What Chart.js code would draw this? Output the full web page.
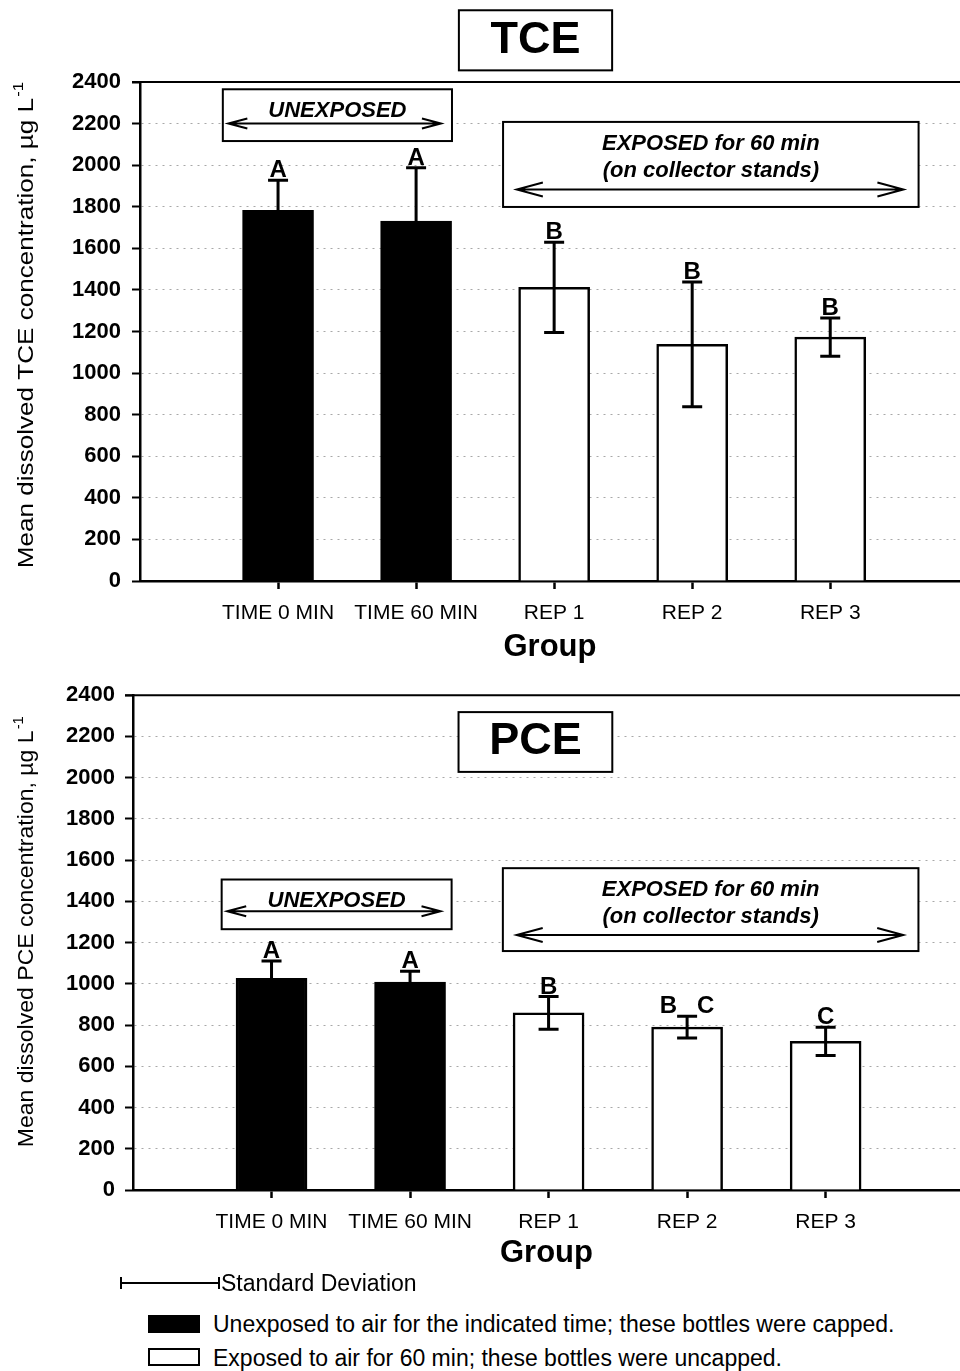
<!DOCTYPE html>
<html>
<head>
<meta charset="utf-8">
<title>TCE / PCE</title>
<script src="https://cdn.jsdelivr.net/npm/chart.js@4.4.1/dist/chart.umd.min.js"></script>
<style>
  body { margin: 0; background: #fff; }
  #page { position: relative; width: 960px; height: 1371px; overflow: hidden; font-family: "Liberation Sans", Arial, sans-serif; color: #000; }
  #tce { position: absolute; left: 0; top: 0; }
  #pce { position: absolute; left: 0; top: 672px; }
  .txt { position: absolute; font-size: 23px; line-height: 26px; white-space: nowrap; }
  .sd { position: absolute; left: 120px; top: 1277px; width: 96px; height: 12px;
        border-left: 2px solid #000; border-right: 2px solid #000;
        background: linear-gradient(#000, #000) center / 100% 2px no-repeat; }
  .swatch { position: absolute; left: 148px; width: 52px; height: 18px; box-sizing: border-box; border: 2px solid #000; }
</style>
</head>
<body>
<div id="page">
  <canvas id="tce" width="960" height="672"></canvas>
  <canvas id="pce" width="960" height="600"></canvas>

  <div class="sd"></div>
  <div class="txt" style="left:221px; top:1270px;">Standard Deviation</div>
  <div class="swatch" style="top:1315px; background:#000;"></div>
  <div class="txt" style="left:213px; top:1311px;">Unexposed to air for the indicated time; these bottles were capped.</div>
  <div class="swatch" style="top:1348px; background:#fff;"></div>
  <div class="txt" style="left:213px; top:1345px;">Exposed to air for 60 min; these bottles were uncapped.</div>
</div>

<script>
//data
const groups = ['TIME 0 MIN', 'TIME 60 MIN', 'REP 1', 'REP 2', 'REP 3'];
const groupPos = [1, 2, 3, 4, 5];
const yTicks = [0, 200, 400, 600, 800, 1000, 1200, 1400, 1600, 1800, 2000, 2200, 2400];
const barColors = ['#000', '#000', '#fff', '#fff', '#fff'];

const tceMean = [1783, 1731, 1412, 1138, 1173];
const tceSd = [145, 256, 217, 300, 92];
const tceLetters = ['A', 'A', 'B', 'B', 'B'];

const pceMean = [1027, 1008, 859, 790, 721];
const pceSd = [84, 53, 79, 53, 69];
const pceLetters = ['A', 'A', 'B', 'B   C', 'C'];

const FONT = '"Liberation Sans", Arial, sans-serif';

//error bars, letters, boxes, y title
const notes = {
  id: 'notes',
  afterDraw(chart, args, o) {
    const { ctx, chartArea: a, scales: { x, y } } = chart;
    const ds = chart.data.datasets[0];
    const meta = chart.getDatasetMeta(0);
    ctx.save();
    ctx.strokeStyle = '#000';
    ctx.fillStyle = '#000';

    // top frame line
    ctx.lineWidth = 2;
    ctx.beginPath();
    ctx.moveTo(a.left - 8, a.top);
    ctx.lineTo(a.right, a.top);
    ctx.stroke();

    meta.data.forEach((bar, i) => {
      const m = ds.data[i].y, s = o.sd[i];
      const hi = y.getPixelForValue(m + s), lo = y.getPixelForValue(m - s);
      ctx.lineWidth = 3;
      ctx.beginPath();
      ctx.moveTo(bar.x, lo); ctx.lineTo(bar.x, hi);
      ctx.moveTo(bar.x - 10, lo); ctx.lineTo(bar.x + 10, lo);
      ctx.moveTo(bar.x - 10, hi); ctx.lineTo(bar.x + 10, hi);
      ctx.stroke();
      ctx.font = 'bold 24px ' + FONT;
      ctx.textAlign = 'center';
      ctx.textBaseline = 'alphabetic';
      ctx.fillText(o.letters[i], bar.x, hi - 3);
    });

    o.boxes.forEach(b => {
      const x0 = x.getPixelForValue(b.x0), x1 = x.getPixelForValue(b.x1);
      const y0 = y.getPixelForValue(b.y1), y1 = y.getPixelForValue(b.y0);
      ctx.fillStyle = '#fff';
      ctx.fillRect(x0, y0, x1 - x0, y1 - y0);
      ctx.lineWidth = 2;
      ctx.strokeRect(x0, y0, x1 - x0, y1 - y0);
      ctx.fillStyle = '#000';
      ctx.font = b.font;
      ctx.textAlign = 'center';
      ctx.textBaseline = 'middle';
      b.lines.forEach(l => ctx.fillText(l.text, (x0 + x1) / 2, y.getPixelForValue(l.y)));
      if (b.arrow) {
        const ax0 = x.getPixelForValue(b.arrow.x0), ax1 = x.getPixelForValue(b.arrow.x1);
        const ay = y.getPixelForValue(b.arrow.y), hl = b.arrow.hl, hw = b.arrow.hw;
        ctx.lineWidth = 2;
        ctx.beginPath();
        ctx.moveTo(ax0, ay); ctx.lineTo(ax1, ay);
        ctx.moveTo(ax0 + hl, ay - hw); ctx.lineTo(ax0, ay); ctx.lineTo(ax0 + hl, ay + hw);
        ctx.moveTo(ax1 - hl, ay - hw); ctx.lineTo(ax1, ay); ctx.lineTo(ax1 - hl, ay + hw);
        ctx.stroke();
      }
    });

    // rotated y title, stretched like the scan
    const t = o.yTitle;
    ctx.translate(t.x, y.getPixelForValue(t.at));
    ctx.rotate(-Math.PI / 2);
    ctx.font = '22px ' + FONT;
    const w1 = ctx.measureText(t.text).width;
    ctx.font = '14px ' + FONT;
    const w2 = ctx.measureText('-1').width;
    ctx.scale(t.length / (w1 + w2), 1);
    ctx.textAlign = 'left';
    ctx.textBaseline = 'middle';
    ctx.font = '22px ' + FONT;
    ctx.fillText(t.text, -(w1 + w2) / 2, 0);
    ctx.font = '14px ' + FONT;
    ctx.fillText('-1', -(w1 + w2) / 2 + w1 + 1, -8);
    ctx.restore();
  }
};

const boxFont = 'italic bold 22px ' + FONT;

function makeChart(id, mean, sd, letters, set) {
  return new Chart(document.getElementById(id), {
    type: 'bar',
    data: {
      datasets: [{
        data: groupPos.map((p, i) => ({ x: p, y: mean[i] })),
        backgroundColor: barColors,
        borderColor: '#000',
        borderWidth: 2.5,
        barThickness: 71
      }]
    },
    options: {
      responsive: false,
      animation: false,
      devicePixelRatio: 1,
      layout: { padding: { top: set.top, left: 0, right: 0, bottom: 0 } },
      plugins: {
        legend: { display: false },
        tooltip: { enabled: false },
        notes: { sd: sd, letters: letters, boxes: set.boxes, yTitle: set.yTitle }
      },
      scales: {
        x: {
          type: 'linear',
          min: 0,
          max: set.xMax,
          offset: false,
          afterBuildTicks: s => { s.ticks = groupPos.map(v => ({ value: v })); },
          afterFit: s => { s.height = set.xHeight; },
          ticks: { callback: v => groups[v - 1], color: '#000', font: { family: FONT, size: 21 }, padding: 12, autoSkip: false, maxRotation: 0 },
          grid: { offset: false, drawOnChartArea: false, tickLength: 8, tickColor: '#000', tickWidth: 2.5 },
          border: { color: '#000', width: 2.5 },
          title: { display: true, text: 'Group', color: '#000', font: { family: FONT, size: 31, weight: 'bold' }, padding: { top: 0, bottom: set.groupPad } }
        },
        y: {
          min: 0,
          max: 2400,
          afterBuildTicks: s => { s.ticks = yTicks.map(v => ({ value: v })); },
          afterFit: s => { s.width = set.yWidth; },
          ticks: { callback: v => String(v), color: '#000', font: { family: FONT, size: 22, weight: 'bold' }, padding: set.yPad },
          grid: {
            color: c => (c.tick && (c.tick.value === 0 || c.tick.value === 2400)) ? 'rgba(0,0,0,0)' : '#a8a8a8',
            lineWidth: 1, tickLength: 8, tickColor: '#000', tickWidth: 2, tickBorderDash: []
          },
          border: { color: '#000', width: 2.5, dash: [2, 5] }
        }
      }
    },
    plugins: [notes]
  });
}

//TCE chart
makeChart('tce', tceMean, tceSd, tceLetters, {
  top: 82, xHeight: 91, yWidth: 140, yPad: 11, xMax: 5.94, groupPad: 6,
  yTitle: { text: 'Mean dissolved TCE concentration, \u00b5g L', x: 27, at: 1228, length: 485 },
  boxes: [
    { x0: 2.31, x1: 3.42, y0: 2456, y1: 2745, font: 'bold 45px ' + FONT, lines: [{ text: 'TCE', y: 2600 }] },
    { x0: 0.60, x1: 2.26, y0: 2116, y1: 2365, font: boxFont, lines: [{ text: 'UNEXPOSED', y: 2262 }],
      arrow: { x0: 0.64, x1: 2.18, y: 2200, hl: 19, hw: 5 } },
    { x0: 2.63, x1: 5.64, y0: 1799, y1: 2208, font: boxFont,
      lines: [{ text: 'EXPOSED for 60 min', y: 2101 }, { text: '(on collector stands)', y: 1970 }],
      arrow: { x0: 2.73, x1: 5.53, y: 1883, hl: 26, hw: 7 } }
  ]
});

//PCE chart
makeChart('pce', pceMean, pceSd, pceLetters, {
  top: 20, xHeight: 82, yWidth: 133, yPad: 10, xMax: 5.97, groupPad: 0,
  yTitle: { text: 'Mean dissolved PCE concentration, \u00b5g L', x: 27, at: 1250, length: 430 },
  boxes: [
    { x0: 2.35, x1: 3.46, y0: 2028, y1: 2318, font: 'bold 45px ' + FONT, lines: [{ text: 'PCE', y: 2174 }] },
    { x0: 0.64, x1: 2.30, y0: 1265, y1: 1506, font: boxFont, lines: [{ text: 'UNEXPOSED', y: 1403 }],
      arrow: { x0: 0.68, x1: 2.22, y: 1352, hl: 19, hw: 5 } },
    { x0: 2.67, x1: 5.67, y0: 1159, y1: 1561, font: boxFont,
      lines: [{ text: 'EXPOSED for 60 min', y: 1455 }, { text: '(on collector stands)', y: 1326 }],
      arrow: { x0: 2.77, x1: 5.56, y: 1237, hl: 26, hw: 7 } }
  ]
});
</script>
</body>
</html>
